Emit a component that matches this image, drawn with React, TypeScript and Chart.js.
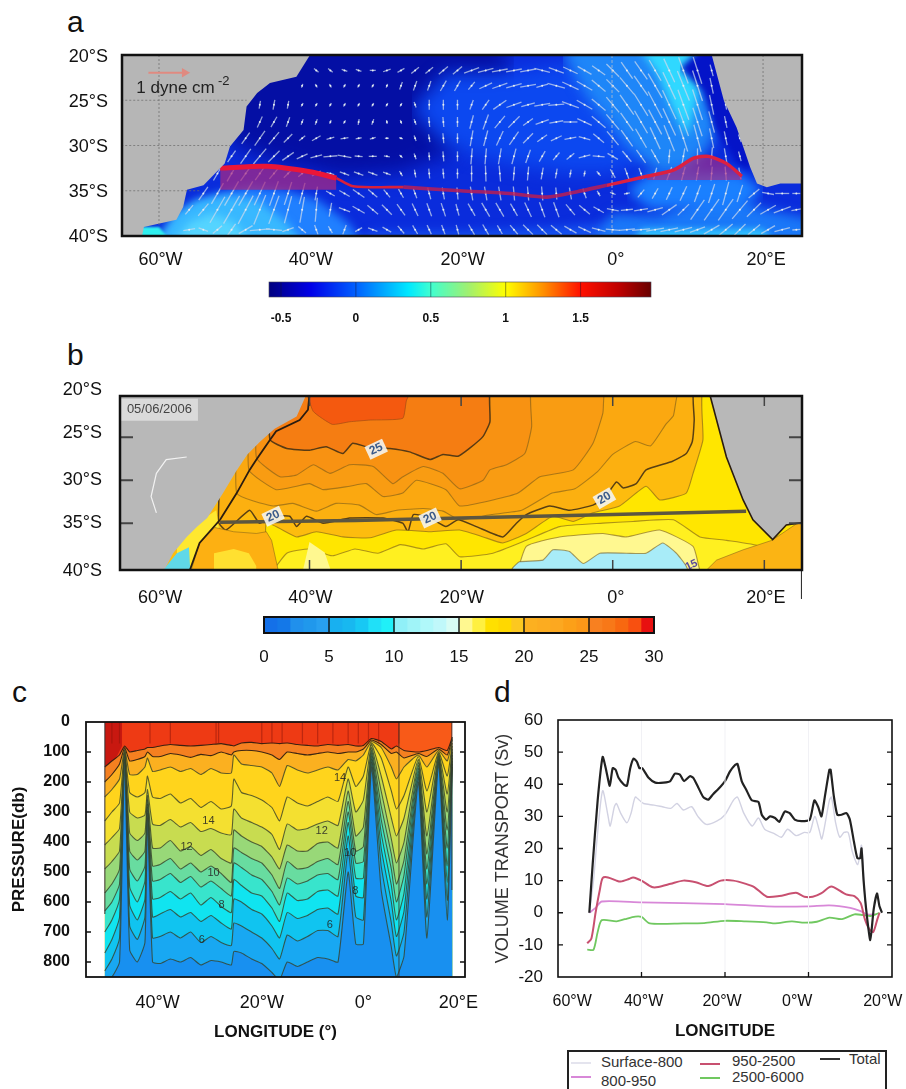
import React, { useEffect, useRef } from "react";
import { Chart, registerables } from "chart.js";

const n = null;

/* ---------- panel a ---------- */
const latPosA = [-20.25, -25.2, -30.15, -35.15, -40.15];
const latLabels = ["20°S", "25°S", "30°S", "35°S", "40°S"];
const lonLabels = ["60°W", "40°W", "20°W", "0°", "20°E"];
const lonLabelPosA = [-59.8, -39.9, -19.8, 0.5, 20.4];
const samericaLonA = [-66, -62.3, -62, -57.7, -56.8, -56.3, -54.1, -51.3, -50.6, -48.8, -48.4, -47, -45.3, -41.8, -40];
const samericaLatA = [-41, -40.2, -39, -38.2, -36.8, -34.9, -34.4, -32, -30.1, -28.3, -25.7, -24.2, -23.1, -22.4, -20];
const africaLonA = [13.2, 14.8, 16.5, 18.3, 19.2, 20.5, 22.3, 26];
const africaLatA = [-20, -25, -28, -32.4, -34.2, -34.6, -34.2, -34.2];
const sectionLonA = [-51.9, -45.7, -40, -36.5, -34.3, -27.6, -20.1, -13.5, -8.6, -4.6, -0.7, 4.6, 8.2, 10.8, 12.8, 15.2, 17.2];
const sectionLatA = [-32.5, -32.3, -32.9, -33.6, -34.5, -34.6, -35, -35.3, -35.7, -35.1, -34.4, -33.4, -32.7, -31.4, -31.2, -32, -33.4];
const quiverLons = [-56, -54.13, -52.26, -50.39, -48.52, -46.65, -44.78, -42.91, -41.04, -39.17, -37.3, -35.43, -33.56, -31.69, -29.82, -27.95, -26.08, -24.21, -22.34, -20.47, -18.6, -16.73, -14.86, -12.99, -11.12, -9.25, -7.38, -5.51, -3.64, -1.77, 0.1, 1.97, 3.84, 5.71, 7.58, 9.45, 11.32, 13.19, 15.06, 16.93, 18.8, 20.67, 22.54, 24.41];
const quiverLats = [-21.7, -23.4, -25.5, -27.4, -29.2, -31.2, -33.1, -35.3, -37.1, -39.3];
const quiverAngles = [
  [n, n, n, n, n, n, n, n, n, 40, 40, 20, 20, 0, -20, -30, -40, -40, -40, -40, -20, -15, -10, -10, -10, 15, 20, 25, 30, 35, 45, 55, 55, 60, 65, 70, 72, 75],
  [n, n, n, n, n, n, n, n, -70, 60, 60, -60, -60, -60, -70, -70, -70, -70, -60, -60, -50, -25, -20, -15, -10, -15, 15, 25, 30, 40, 45, 50, 55, 60, 65, 68, 72, 78],
  [n, n, n, n, n, -80, -80, -80, -60, -60, -60, -60, -60, -60, -60, -60, 70, 90, 90, 90, -70, -55, -35, -20, -15, -10, -5, 20, 30, 40, 50, 55, 58, 62, 65, 70, 72, 78, 80],
  [n, n, n, n, n, -65, -60, -70, -70, -70, -70, -60, -80, -70, 80, 70, 70, 85, 85, 90, -75, -70, -50, -45, -35, -20, -10, 0, 25, 40, 50, 55, 60, 62, 65, 70, 72, 75, 78],
  [n, n, n, n, -55, -55, -50, -45, -40, -30, -15, -10, -10, -15, 0, 20, 70, 80, 85, 90, -80, -75, -65, -55, -45, -35, -25, -10, 15, 40, 50, 55, 60, 65, 68, 72, 75, 78, 78, 70],
  [n, n, n, -55, -55, -50, -45, -35, -25, -15, -5, 10, 5, 0, 10, 40, 70, 85, 85, 90, -85, -85, -80, -75, -70, -60, -50, -40, -15, 5, 30, 50, 55, 60, -85, -80, 90, -85, 80, 75],
  [n, n, -60, -60, -55, -55, -50, -45, -40, -30, 15, 20, 20, 20, 20, 60, 80, 85, 85, 90, 90, 88, 85, -85, -85, -80, -80, -80, -80, 50, 60, 70, 70, -75, -70, -75, -80, -85, 85, 80],
  [n, -55, -60, -60, -60, -65, -70, -72, -75, -80, 30, 30, 35, 40, 50, 60, 70, 75, 80, 85, 80, 80, 80, 85, 85, 85, 85, 80, 70, 60, 20, -10, -50, -60, -65, -65, -70, -72, -75, -72, -40, 10, 0, 0],
  [-50, -50, -60, -60, -62, -68, -70, -75, -80, -85, -80, 20, 30, 40, 45, 55, 65, 70, 72, 75, 60, 60, 60, 60, 65, 70, 70, 50, 40, 30, 10, -5, -10, -15, -35, -45, -55, -55, -55, -50, -45, -30, -20, -10],
  [-10, 20, -40, -55, -30, -5, 5, -20, 40, 70, 60, -70, -30, 20, 30, 50, 60, 65, 70, 75, 60, 60, 60, 50, 45, 45, 40, 30, 25, 15, 5, -5, -5, -10, -12, -15, -20, -30, -40, -45, -40, -30, -15, -5],
];
const quiverLengths = [
  [n, n, n, n, n, n, n, n, n, 3, 3, 3, 3, 3, 4, 4, 5, 5, 6, 6, 8, 8, 8, 8, 8, 8, 8, 8, 8, 8, 9, 10, 11, 12, 13, 14, 14, 6],
  [n, n, n, n, n, n, n, n, 2, 2, 2, 2, 2, 2, 2, 4, 5, 5, 6, 6, 5, 7, 8, 8, 8, 6, 9, 9, 9, 9, 9, 11, 12, 14, 15, 16, 16, 8],
  [n, n, n, n, n, 4, 5, 4, 2, 2, 2, 2, 2, 2, 2, 2, 3, 5, 5, 5, 5, 6, 8, 8, 7, 8, 8, 9, 9, 9, 10, 12, 13, 15, 16, 16, 16, 10, 5],
  [n, n, n, n, n, 6, 6, 5, 3, 3, 2, 2, 3, 3, 2, 2, 3, 5, 5, 5, 7, 8, 8, 8, 6, 7, 7, 7, 8, 9, 10, 11, 13, 14, 15, 15, 15, 11, 6],
  [n, n, n, n, 7, 9, 8, 6, 4, 5, 4, 4, 3, 3, 2, 2, 3, 4, 5, 5, 8, 8, 8, 8, 7, 6, 6, 6, 6, 7, 9, 10, 11, 12, 14, 14, 14, 10, 7, 4],
  [n, n, n, 7, 9, 10, 8, 7, 6, 6, 7, 7, 4, 4, 3, 2, 3, 4, 5, 5, 8, 8, 8, 8, 7, 6, 5, 5, 6, 6, 6, 7, 8, 8, 7, 8, 8, 9, 8, 5],
  [n, n, 8, 9, 9, 8, 7, 6, 5, 5, 4, 5, 5, 5, 4, 3, 4, 5, 5, 5, 8, 8, 8, 7, 7, 6, 5, 4, 3, 3, 5, 6, 6, 6, 7, 7, 7, 7, 7, 6],
  [n, 8, 12, 14, 14, 13, 13, 12, 11, 7, 5, 6, 7, 6, 5, 5, 5, 6, 6, 6, 7, 7, 7, 7, 7, 7, 6, 6, 5, 3, 3, 3, 5, 6, 7, 8, 9, 10, 12, 9, 7, 6, 7, 4],
  [6, 8, 15, 16, 16, 16, 15, 14, 13, 12, 7, 6, 7, 7, 7, 7, 7, 7, 7, 6, 7, 8, 8, 7, 8, 8, 8, 7, 7, 6, 6, 6, 7, 8, 9, 8, 12, 13, 13, 12, 10, 9, 9, 5],
  [6, 5, 6, 7, 8, 10, 8, 6, 5, 5, 4, 5, 4, 5, 5, 5, 5, 5, 5, 5, 6, 6, 5, 6, 7, 7, 7, 7, 7, 7, 7, 8, 9, 9, 9, 9, 8, 9, 9, 8, 8, 8, 8, 4],
];
const stressTicks = [-0.5, 0, 0.5, 1, 1.5];
const stressLabels = ["-0.5", "0", "0.5", "1", "1.5"];
const stressStops: [number, string][] = [
  [-0.58, "#00007f"], [-0.3, "#0000e8"], [0, "#0060ff"], [0.35, "#00e8ff"], [0.5, "#40ffd0"], [0.75, "#a0f070"],
  [1, "#ffff00"], [1.25, "#ff9000"], [1.5, "#ff1000"], [1.75, "#c00000"], [1.97, "#680000"],
];

/* ---------- panel b ---------- */
const latPosB = [-19.5, -24.5, -30, -35, -40.6];
const lonLabelPosB = [-59.7, -39.9, -19.9, 0.4, 20.2];
const isoRedLon = [-66, -41, -39.5, -37, -34.7, -32, -27.7, -27.2, -26, 30];
const isoRedLat = [-19, -19, -22, -23.5, -23.2, -23, -22.8, -20.7, -19, -19];
const iso25Lon = [-66, -46, -45.2, -43, -40, -37.8, -35.6, -34.3, -32.5, -29.4, -26.8, -24.1, -22.4, -20.4, -18.9, -17.1, -16.2, -15.9, 30];
const iso25Lat = [-19, -19, -25.3, -26.3, -26.5, -26.1, -26.9, -25.7, -26.1, -26.3, -26.7, -27.6, -27, -27.2, -26.3, -24.9, -23.2, -19, -19];
const iso24Lon = [-66, -47.5, -47, -43.9, -41.7, -39.5, -37.3, -34.7, -31.6, -29, -27.7, -25, -22.4, -20.2, -17.1, -16.2, -14, -11.6, -10.7, -10.5, 30];
const iso24Lat = [-19, -19, -27.4, -29.6, -29.4, -28.2, -29.2, -28.2, -28.4, -30.4, -29.6, -28.4, -29.2, -31, -30, -28.8, -28.2, -26.9, -23.8, -19, -19];
const iso22Lon = [-66, -48.5, -48, -44.4, -41.7, -40, -38.2, -34.7, -32.5, -30.3, -27.7, -25.9, -22, -20.2, -15.8, -12.5, -9.6, -5.2, -2.6, -1.3, -0.8, 30];
const iso22Lat = [-19, -19, -28.8, -31.1, -30.7, -30.4, -31.1, -30.7, -30.4, -31.9, -31.5, -30, -31.1, -33, -32.3, -31.5, -29.6, -28.8, -25.7, -22.2, -19, -19];
const iso21Lon = [-66, -50, -49.6, -44.8, -42.2, -39.1, -36.5, -33.4, -31.2, -28.5, -25, -22.4, -20.2, -16, -12, -8, -5, -2, 0, 3, 5, 7, 8, 9, 30];
const iso21Lat = [-19, -19, -31.5, -33, -32.7, -33.6, -32.7, -32.9, -34, -33.5, -33.3, -33.6, -34.6, -34, -33.5, -31.5, -31, -29, -27, -25.5, -26, -23.5, -22.5, -19, -19];
const iso20Lon = [-66, -52.2, -52, -51, -47.9, -46.6, -44.8, -42.6, -41.7, -40.4, -38.2, -34.7, -30.3, -27.7, -27, -26.3, -24.1, -22, -20.4, -18, -14.5, -12.7, -11.4, -8.3, -5.7, -2.6, -1.1, 0.5, 1.4, 3.1, 4.4, 7.9, 9.7, 10.5, 10.75, 10.85, 30];
const iso20Lat = [-19, -19, -34.9, -35.8, -33.5, -35, -34.2, -34.2, -35.4, -34.2, -35, -34.4, -34.4, -35, -36, -34, -34.4, -35.4, -34.6, -35.4, -36.6, -35, -34, -33, -33.5, -32.9, -32.1, -30.2, -30.9, -30.4, -28.8, -27.8, -26.9, -25.5, -23, -19, -19];
const iso19Lon = [-66, -46, -45.7, -41.7, -39.1, -35.6, -32, -28.5, -24.1, -20.2, -17.1, -14.5, -11.4, -7.9, -5.2, -2.6, 0.9, 4.4, 6.2, 9.7, 10.6, 11.9, 12.1, 30];
const iso19Lat = [-42, -42, -35, -36.6, -36, -36.6, -36.7, -35.8, -36, -35.8, -36.6, -37.3, -36.2, -34.2, -34.8, -33.8, -33, -30.7, -32.3, -31.5, -29.2, -25.3, -19, -19];
const iso18Lon = [-46, -43, -40, -37, -34, -31, -28, -25, -22, -20.2, -15.8, -11.4, -7, -1.3, 2.7, 8, 11.5, 15, 19.4, 26];
const iso18Lat = [-42, -38.5, -38, -38.8, -38, -38.5, -37.5, -38, -37.4, -38.9, -38.5, -37, -35.4, -35, -34.8, -34.6, -36.6, -37, -37.7, -42];
const iso17Lon = [-13, -11.4, -7, -1.3, 1.8, 6.2, 10.6, 11.5, 12.5];
const iso17Lat = [-42, -37.7, -36.6, -36.2, -36.6, -35.8, -37.7, -40.5, -42];
const iso15Lon = [-14, -13.2, -12.3, -9.2, -7.9, -5.7, -3.9, -1.7, 1.8, 4.4, 6.6, 8.4, 9.7, 10.5];
const iso15Lat = [-42, -40.2, -39.5, -39.3, -38.1, -38.3, -39.7, -38.5, -38.5, -38.5, -37.3, -38.5, -40, -42];
const bIsoLons = [isoRedLon, iso25Lon, iso24Lon, iso22Lon, iso21Lon, iso20Lon, iso19Lon, iso18Lon, iso17Lon, iso15Lon];
const bIsoLats = [isoRedLat, iso25Lat, iso24Lat, iso22Lat, iso21Lat, iso20Lat, iso19Lat, iso18Lat, iso17Lat, iso15Lat];
const bColors = ["#f57d12", "#f89212", "#f99c12", "#fba810", "#fcb010", "#fdbc0e", "#ffe600", "#fff020", "#fff890", "#a8ecf8"];
const samericaLonB = [-66, -60.5, -59, -58, -56.2, -54.8, -53.5, -51.4, -49.7, -48.2, -46.5, -44.6, -41.7, -40.4];
const samericaLatB = [-41, -41, -40.2, -38.5, -36.6, -35.4, -34.4, -31.5, -29, -27, -25.5, -24, -22.6, -20];
const coastLonB = [-55.8, -54.5, -51.8, -49.6, -47.9, -47, -45.2, -44.4, -41.3, -40.2, -40];
const coastLatB = [-40.5, -37.3, -34.6, -31.5, -28.8, -27.6, -25.3, -24.3, -23, -21.8, -20];
const africaLonB = [12.8, 15, 17.2, 18.5, 21.1, 22.9, 26];
const africaLatB = [-20, -27.3, -32.3, -34.6, -36.9, -35.2, -34.8];
const agulhasLon = [10.6, 13.7, 17.2, 21, 24.7, 26];
const agulhasLat = [-42, -39.3, -38.1, -37, -34.8, -34.5];
const brazilLon = [-55.8, -54.5, -52.5, -50, -47, -45.7, -45, -44];
const brazilLat = [-41, -37.3, -35.5, -36, -36.2, -36, -37, -41];
const stripLon = [-57.5, -55.5, -53.5, -52.3, -51.9];
const stripLat = [-37, -35.6, -34.2, -33.5, -36];
const plataLon = [-60, -58.9, -57.5, -55.9, -55.7];
const plataLat = [-41, -40, -38.5, -37.8, -41];
const riverLon = [-56.2, -58.9, -60.2, -60.9, -60.2];
const riverLat = [-27.3, -27.6, -29.2, -31.9, -33.8];
const sectionLonB = [-51.8, -34, -20, 0, 17.6];
const sectionLatB = [-34.9, -34.7, -34.4, -34, -33.6];
const sstTicks = [0, 5, 10, 15, 20, 25, 30];
const sstColors = [
  "#1470e8", "#1478e8", "#2090ec", "#2098ec", "#28a0f0", "#18b0f0", "#18b8f0", "#18c8f4", "#20e0f8", "#20f0f8",
  "#90f0f8", "#a0f4f8", "#b0f8fa", "#c0f8fa", "#d8fcf4", "#fff890", "#fff040", "#ffe000", "#ffd800", "#fcc820",
  "#fcb020", "#fcac20", "#fca820", "#fca018", "#fc9818", "#f88020", "#f87818", "#f86810", "#f85010", "#e81010",
];

/* ---------- panel c ---------- */
const pressureTicks = [0, 100, 200, 300, 400, 500, 600, 700, 800];
const cLonTickPos = [-40.5, -20, 0, 18.7];
const cLonLabels = ["40°W", "20°W", "0°", "20°E"];
const cLons = [-50.9, -49.5, -48, -47, -46, -44.5, -43, -42.5, -41.5, -40, -38, -36, -34, -32, -30, -28, -26, -25.5, -24, -22, -20, -18, -16.5, -15, -13, -11, -9, -7, -5, -3, -1.5, 0, 1.6, 3.5, 5.5, 6.5, 8, 10.8, 12.5, 14.8, 16.5, 17.5];
const depthA = [150, 130, 110, 80, 100, 95, 90, 85, 85, 80, 75, 78, 80, 78, 75, 72, 78, 80, 70, 68, 72, 70, 72, 70, 75, 78, 80, 75, 78, 75, 80, 78, 55, 65, 90, 80, 95, 100, 95, 85, 95, 50];
const depthB = [200, 175, 140, 85, 130, 125, 115, 100, 115, 115, 105, 110, 118, 108, 112, 100, 110, 100, 95, 95, 100, 110, 125, 100, 105, 110, 105, 100, 105, 100, 100, 90, 60, 75, 105, 100, 120, 105, 115, 90, 110, 55];
const depthC = [250, 225, 190, 90, 175, 175, 150, 120, 165, 160, 150, 165, 155, 175, 155, 170, 170, 110, 140, 145, 150, 170, 215, 145, 160, 170, 160, 150, 160, 125, 130, 110, 65, 85, 150, 190, 150, 110, 150, 95, 130, 60];
const depthD = [330, 300, 270, 95, 235, 250, 235, 180, 250, 255, 240, 270, 255, 285, 265, 290, 280, 190, 235, 245, 260, 285, 330, 250, 270, 280, 265, 250, 265, 150, 215, 180, 70, 120, 230, 290, 245, 115, 230, 100, 180, 70];
const depthE = [410, 385, 355, 100, 300, 320, 310, 225, 340, 345, 325, 350, 335, 365, 355, 370, 375, 290, 320, 335, 350, 375, 425, 340, 360, 355, 340, 330, 345, 190, 300, 260, 75, 180, 320, 380, 320, 125, 300, 105, 240, 80];
const depthF = [490, 465, 430, 105, 370, 395, 370, 245, 420, 420, 395, 430, 415, 445, 425, 455, 470, 360, 380, 400, 415, 450, 490, 410, 430, 430, 405, 400, 420, 230, 380, 350, 85, 230, 390, 470, 400, 135, 380, 110, 300, 90];
const depthG = [570, 540, 490, 110, 430, 460, 430, 260, 480, 475, 455, 490, 470, 500, 480, 505, 535, 420, 435, 455, 470, 510, 555, 465, 490, 485, 465, 455, 475, 265, 430, 415, 95, 280, 440, 540, 460, 145, 440, 115, 360, 100];
const depthH = [630, 600, 540, 115, 490, 530, 480, 275, 530, 525, 505, 535, 515, 550, 530, 555, 580, 470, 485, 510, 525, 565, 610, 520, 540, 530, 510, 505, 525, 300, 470, 465, 105, 325, 490, 600, 510, 155, 490, 120, 420, 110];
const depthI = [700, 660, 590, 120, 550, 600, 530, 285, 590, 585, 565, 590, 570, 610, 585, 615, 635, 525, 545, 570, 580, 620, 665, 570, 595, 590, 565, 560, 580, 335, 520, 520, 115, 370, 545, 660, 570, 165, 540, 125, 480, 120];
const depthJ = [770, 725, 650, 125, 610, 660, 590, 295, 650, 640, 625, 650, 635, 665, 645, 670, 690, 590, 600, 625, 640, 680, 720, 635, 655, 645, 625, 620, 640, 380, 580, 585, 125, 420, 600, 715, 630, 175, 590, 130, 535, 130];
const depthK = [830, 790, 720, 130, 680, 725, 650, 305, 720, 715, 700, 720, 700, 735, 715, 735, 745, 670, 680, 700, 720, 755, 790, 710, 730, 715, 695, 695, 715, 430, 650, 660, 135, 480, 670, 780, 700, 185, 650, 135, 595, 140];
const depthL = [860, 850, 800, 135, 760, 800, 735, 320, 800, 805, 790, 800, 785, 810, 795, 800, 810, 765, 770, 790, 805, 835, 860, 800, 815, 800, 785, 790, 800, 500, 740, 740, 150, 560, 750, 850, 780, 200, 720, 140, 660, 150];
const cDepths = [depthA, depthB, depthC, depthD, depthE, depthF, depthG, depthH, depthI, depthJ, depthK, depthL];
const cColors = ["#f58020", "#fbb020", "#ffd41c", "#f4e030", "#c8dc50", "#98d878", "#68dca0", "#38e4cc", "#10e4f0", "#10c4f0", "#18a8f2", "#1890f0"];
const cStreakLons = [-49.5, -48, -42, -38, -29, -28.5, -20, -18, -16, -12, -9, -6, -3, -1, 1, 3, 7];

/* ---------- panel d ---------- */
const transportTicks = [-20, -10, 0, 10, 20, 30, 40, 50, 60];
const dLabelPos = [-56.6, -39.5, -20.7, -2.7, 17.8];
const dLabels = ["60°W", "40°W", "20°W", "0°W", "20°W"];
const dMarks = [-40, -20, 0];
const totalLon = [-52.5, -51.7, -50.5, -49.3, -48.4, -47.6, -46.9, -46.2, -45.5, -44.3, -43.5, -42.7, -41.9, -41.1, -40.5, -39.8, -38.3, -36.7, -34.7, -33.1, -32, -30.8, -29.8, -28.4, -27.6, -26.4, -25.2, -24, -22.8, -21.6, -20, -18.8, -17.6, -17, -16, -14.8, -13.6, -12, -11.2, -10.2, -9.2, -8, -7, -5.7, -4.5, -3.3, -1.7, 0.3, 1.4, 2.3, 3.1, 3.9, 5, 5.3, 6.1, 6.9, 7.9, 9.1, 9.9, 10.9, 11.7, 12.4, 12.7, 13.2, 13.9, 14.8, 15.6, 16.4, 17, 17.6];
const totalVal = [0, 15, 35, 48.5, 44, 39.5, 45, 44.5, 42, 40, 39.5, 45, 48, 47, 45, 45, 42, 40.5, 40.5, 41, 43.3, 43, 41, 42.5, 42, 39, 36, 35.2, 37, 38.5, 41, 44, 46, 46.3, 41, 38, 35, 34.5, 30.5, 29, 30, 29.5, 28.3, 31.5, 31, 29, 28.5, 29, 35, 33, 30, 36, 44.5, 44.5, 36, 30.5, 30.5, 31, 29, 22, 17, 17, 20, 10, 0, -8.5, 1, 6, 2, 0];
const surfaceLon = [-52.5, -51.5, -50.5, -49.3, -48, -47.5, -46.5, -46, -45, -43.5, -42.5, -41.5, -40.5, -39.5, -37, -35, -33, -31.5, -30, -28, -26.5, -24.5, -22, -20, -18, -17, -15.5, -13.5, -12, -10.5, -8, -6.5, -5, -3, -1, 0.3, 1.5, 2.5, 3.2, 5, 5.5, 6.5, 7.5, 8.5, 9.5, 10.5, 11.8, 12.7, 13.5, 14];
const surfaceVal = [0, 10, 25, 38, 30, 27, 33, 34, 31, 28, 31, 36, 35, 34, 33.5, 33, 32.5, 34, 32, 33, 30, 27.5, 28.5, 30.5, 35, 36, 31, 27, 29.5, 26, 24.5, 23.5, 26, 24, 25, 25, 30, 26, 23, 35, 36, 28, 23.5, 25, 25, 19, 15, 21, 5, 0];
const midLon = [-52.5, -51, -49.5, -40, -20, -10, 0, 5, 10, 12.5, 14, 16];
const midVal = [0, 1.5, 3.5, 3.2, 2.7, 2, 2, 2.3, 1.5, 0.5, -0.5, -0.5];
const deepLon = [-53, -52, -51, -50, -49.3, -48, -46, -45, -43, -42, -40, -37.5, -36, -33, -30, -27, -24, -21, -18, -15, -13, -10, -7, -3, -1, 1, 3, 5, 6, 9, 11, 12.5, 13.5, 14.5, 15.5, 16.5, 17];
const deepVal = [-9.5, -8, 0, 7, 10.8, 11, 10, 9.7, 10.5, 11, 10, 8, 8, 9, 10, 9.5, 8.3, 10, 10, 9, 8, 5, 5.2, 6.2, 5, 5, 6, 8, 8, 5.7, 5.2, 3, -2, -5, -6, -2, 0];
const abyssLon = [-53, -51.5, -50.5, -49.5, -46, -44, -41.5, -40, -38, -30, -25, -20, -15, -10, -8, -4, -1, 2, 5, 8, 11, 13, 15, 17];
const abyssVal = [-11.5, -11.5, -6, -2.3, -2.7, -2, -1.2, -1.3, -3.3, -3.3, -3.2, -2.5, -2.7, -3, -3.3, -2.7, -3.1, -2.8, -1.5, -2, -0.5, -0.7, -1, 0];

const legendItems = [
  { label: "Surface-800", color: "#e4e4ee", lineX: 571, lineY: 1063, textX: 601, textY: 1062 },
  { label: "800-950", color: "#d888d8", lineX: 571, lineY: 1077, textX: 601, textY: 1081 },
  { label: "950-2500", color: "#c85070", lineX: 700, lineY: 1064, textX: 732, textY: 1061 },
  { label: "2500-6000", color: "#70c860", lineX: 700, lineY: 1078, textX: 732, textY: 1077 },
  { label: "Total", color: "#333333", lineX: 820, lineY: 1059, textX: 849, textY: 1059 },
];

/* ---------- plugins ---------- */
const softField = {
  id: "softField",
  beforeDatasetDraw(chart: any, args: any) {
    const s = chart.data.datasets[args.index]?.soft;
    chart.ctx.filter = s ? `blur(${s}px)` : "none";
  },
  afterDatasetDraw(chart: any) {
    chart.ctx.filter = "none";
  },
};
Chart.register(softField, ...registerables);

const overlay = (cfg: any) => ({
  id: "overlay",
  afterDatasetsDraw(chart: any) {
    const { ctx, chartArea: a, scales } = chart;
    ctx.save();
    (cfg.marks || []).forEach((m: any) => {
      ctx.strokeStyle = m.color || "#111";
      ctx.lineWidth = m.width || 1;
      m.values.forEach((v: number) => {
        ctx.beginPath();
        if (m.axis === "x") {
          const p = scales.x.getPixelForValue(v);
          const len = m.len || a.bottom - a.top;
          (m.sides || ["bottom"]).forEach((s: string) => {
            ctx.moveTo(p, s === "bottom" ? a.bottom : a.top);
            ctx.lineTo(p, s === "bottom" ? a.bottom - len : a.top + len);
          });
        } else {
          const p = scales.y.getPixelForValue(v);
          const len = m.len || a.right - a.left;
          (m.sides || ["left"]).forEach((s: string) => {
            ctx.moveTo(s === "left" ? a.left : a.right, p);
            ctx.lineTo(s === "left" ? a.left + len : a.right - len, p);
          });
        }
        ctx.stroke();
      });
    });
    (cfg.notes || []).forEach((t: any) => {
      ctx.save();
      ctx.translate(scales.x.getPixelForValue(t.x), scales.y.getPixelForValue(t.y));
      ctx.rotate(((t.angle || 0) * Math.PI) / 180);
      ctx.font = t.font;
      ctx.textAlign = t.align || "center";
      ctx.textBaseline = "middle";
      if (t.bg) {
        const w = ctx.measureText(t.text).width;
        ctx.fillStyle = t.bg;
        ctx.fillRect(-w / 2 - (t.bgw || 3), -(t.bgh || 8), w + 2 * (t.bgw || 3), 2 * (t.bgh || 8));
      }
      ctx.fillStyle = t.color;
      ctx.fillText(t.text, 0, 0);
      ctx.restore();
    });
    ctx.strokeStyle = cfg.borderColor || "#111";
    ctx.lineWidth = cfg.border || 2;
    ctx.strokeRect(a.left, a.top, a.right - a.left, a.bottom - a.top);
    ctx.restore();
  },
});

/* ---------- helpers ---------- */
const FONT = "'Liberation Sans', Arial, sans-serif";
const zip = (xs: number[], ys: (number | null)[]) => xs.map((x, i) => ({ x, y: ys[i] }));
const constant = (xs: number[], v: number) => xs.map((x) => ({ x, y: v }));

function layers() {
  const ds: any[] = [];
  const add = (d: any) => {
    d.order = -ds.length;
    d.pointRadius = d.pointRadius ?? 0;
    d.borderColor = d.borderColor ?? "transparent";
    d.borderWidth = d.borderWidth ?? 0;
    d.fill = d.fill ?? false;
    ds.push(d);
  };
  const band = (xs: number[], top: number[] | number, bot: number[] | number, color: string, soft = 0) => {
    const t = Array.isArray(top) ? zip(xs, top) : constant(xs, top);
    const b = Array.isArray(bot) ? zip(xs, bot) : constant(xs, bot);
    if (soft) {
      // taper both ends so that the blurred edge is not cut by the fill's clip
      const pad = Math.max(3, soft * 0.5);
      const m0 = ((t[0].y as number) + (b[0].y as number)) / 2;
      const l = t.length - 1;
      const m1 = ((t[l].y as number) + (b[l].y as number)) / 2;
      t.unshift({ x: xs[0] - pad, y: m0 });
      b.unshift({ x: xs[0] - pad, y: m0 });
      t.push({ x: xs[l] + pad, y: m1 });
      b.push({ x: xs[l] + pad, y: m1 });
    }
    add({ data: t, fill: "+1", backgroundColor: color, soft });
    add({ data: b });
  };
  return { ds, add, band };
}

function xAxis(min: number, max: number, pos: number[], labels: string[], pad: number, h: number, font: any, title?: any) {
  return {
    type: "linear",
    min,
    max,
    afterBuildTicks: (s: any) => {
      s.ticks = pos.map((v) => ({ value: v }));
    },
    afterFit: (s: any) => {
      s.height = h;
      s.paddingLeft = 0;
      s.paddingRight = 0;
    },
    grid: { display: false, drawTicks: false },
    border: { display: false },
    title: title || { display: false },
    ticks: { autoSkip: false, maxRotation: 0, padding: pad, color: "#111", font, callback: (_: any, i: number) => labels[i] },
  };
}
function yAxis(min: number, max: number, pos: number[], labels: string[], pad: number, w: number, font: any, reverse = false, title?: any) {
  return {
    type: "linear",
    min,
    max,
    reverse,
    afterBuildTicks: (s: any) => {
      s.ticks = pos.map((v) => ({ value: v }));
    },
    afterFit: (s: any) => {
      s.width = w;
      s.paddingTop = 0;
      s.paddingBottom = 0;
    },
    grid: { display: false, drawTicks: false },
    border: { display: false },
    title: title || { display: false },
    ticks: { autoSkip: false, padding: pad, color: "#111", font, callback: (_: any, i: number) => labels[i] },
  };
}
const base = (t: number, r: number) => ({
  responsive: false,
  maintainAspectRatio: false,
  animation: false,
  events: [],
  layout: { padding: { top: t, right: r, left: 0, bottom: 0 } },
  plugins: { legend: { display: false }, tooltip: { enabled: false }, title: { display: false } },
  elements: { point: { radius: 0 }, line: { tension: 0 } },
});

/* ---------- panel builders ---------- */
const mapFont = { family: FONT, size: 18 };

function makeA() {
  const { ds, add, band } = layers();
  band([-70, 30], -15, -45, "#0a2cdc");
  band([-50, -44, -36, -28, -22, -18], -15, [-30, -32, -33.5, -33, -31, -28], "#040fa4", 10);
  band([-22, -14, -6, 0, 4], [-22, -22, -21, -21, -23], [-30, -32, -33, -33, -32], "#0c48f0", 9);
  band([-3, 2, 6, 10, 13], -15, [-25, -30, -33, -33, -30], "#1e86f8", 7);
  band([6, 8, 10, 11.5], -15, [-22, -26, -29, -24], "#30d8ff", 4);
  band([12, 13.5, 15, 16.5, 18], -19, [-24, -28, -30, -32, -33], "#0414c8", 3);
  band([-57, -53, -48, -43, -39, -35], [-37.5, -35.5, -34.5, -35, -36, -38.5], -45, "#2080ff", 5);
  band([-58, -55, -51, -47, -43], [-37.5, -36, -35.5, -36, -38.5], -45, "#38b8ff", 4);
  band([-56, -53, -50], [-38.5, -37.5, -38.5], -45, "#55d4ff", 4);
  band([-32, -20, -8, 0], [-39.5, -39.5, -39, -38.5], -45, "#1450ee", 5);
  band([0, 6, 12, 16, 20, 26], [-37.5, -37.8, -36, -35.5, -37, -38], -45, "#1a78f8", 6);
  band([5, 10, 14, 17], -33, -37, "#1a80ff", 6);
  band([4, 10, 16, 20], -39.2, -45, "#30c0ff", 3);
  band([-62.5, -60], -39, -45, "#30f0f0", 1);
  // wind stress arrows
  const pts: any[] = [];
  const rot: number[] = [];
  const rad: number[] = [];
  quiverLats.forEach((lat, r) => {
    quiverLons.forEach((lon, c) => {
      const a = quiverAngles[r][c];
      if (a !== null && a !== undefined) {
        pts.push({ x: lon, y: lat });
        rot.push(a);
        rad.push(quiverLengths[r][c] as number);
      }
    });
  });
  add({
    data: pts,
    showLine: false,
    pointStyle: "line",
    pointRotation: rot,
    pointRadius: rad,
    pointBorderColor: "rgba(205,218,235,0.72)",
    pointBorderWidth: 1.3,
  });
  add({ data: pts.map((p) => ({ ...p })), showLine: false, pointStyle: "circle", pointRadius: 1, pointBackgroundColor: "#e6edf2", pointBorderWidth: 0 });
  // section hatch and line
  band([-51.9, -45.7, -40, -36.5], [-32.5, -32.3, -32.9, -33.6], -34.9, "rgba(170,40,130,0.72)");
  band([4.6, 8.2, 10.8, 12.8, 15.2, 17.2], [-33.4, -32.7, -31.4, -31.2, -32, -33.4], -33.8, "rgba(170,40,130,0.65)");
  const part = (from: number, to: number, color: string, w: number) =>
    add({ data: zip(sectionLonA.slice(from, to + 1), sectionLatA.slice(from, to + 1)), borderColor: color, borderWidth: w, tension: 0.25 });
  part(0, 3, "#ea1638", 5);
  part(3, 5, "#d8203c", 2.6);
  part(5, 10, "rgba(185,30,85,0.85)", 3.6);
  part(10, 16, "#dc2040", 3.4);
  // land
  add({ data: zip(samericaLonA, samericaLatA), fill: "end", backgroundColor: "#b6b6b6" });
  add({ data: zip(africaLonA, africaLatA), fill: "end", backgroundColor: "#b6b6b6" });
  // dotted meridians and parallels
  const dash = { borderColor: "rgba(110,110,110,0.75)", borderWidth: 1, borderDash: [2, 2] };
  add({ data: zip([-65, -48.4], [-25, -25]), ...dash });
  add({ data: zip([-65, -50.6], [-30, -30]), ...dash });
  add({ data: zip([-65, -54.5], [-35, -35]), ...dash });
  add({ data: zip([14.9, 25.2], [-25, -25]), ...dash });
  add({ data: zip([17.4, 25.2], [-30, -30]), ...dash });
  add({ data: zip([-60, -60], [-20, -38.8]), ...dash });
  add({ data: zip([20, 20], [-20, -34.5]), ...dash });
  add({ data: zip([0, 0], [-20, -40]), borderColor: "rgba(185,190,200,0.8)", borderWidth: 1, borderDash: [3, 2] });
  // key arrow
  add({
    data: zip([-61.4, -56.6], [-21.95, -21.95]),
    borderColor: "#e08a80",
    borderWidth: 2,
    pointStyle: "triangle",
    pointRadius: [0, 3.5],
    pointRotation: [0, 90],
    pointBackgroundColor: "#e08a80",
    pointBorderColor: "#e08a80",
  });
  return {
    type: "line",
    data: { datasets: ds },
    options: {
      ...base(20, 64),
      scales: {
        x: xAxis(-64.9, 25.16, lonLabelPosA, lonLabels, 13, 40, mapFont),
        y: yAxis(-40, -20, latPosA, latLabels, 14, 122, mapFont),
      },
    },
    plugins: [
      overlay({
        border: 2.5,
        notes: [
          { x: -63, y: -23.7, text: "1 dyne cm", font: `17px ${FONT}`, color: "#222", align: "left" },
          { x: -52.2, y: -22.95, text: "-2", font: `13px ${FONT}`, color: "#222", align: "left" },
        ],
      }),
    ],
  };
}

function makeColorbarA() {
  return {
    type: "bar",
    data: {
      labels: [""],
      datasets: [
        {
          data: [[-0.58, 1.97]],
          barPercentage: 1,
          categoryPercentage: 1,
          backgroundColor: (c: any) => {
            const x = c.chart.scales.x;
            if (!x || !Number.isFinite(x.left) || !Number.isFinite(x.right)) return "#0060ff";
            const g = c.chart.ctx.createLinearGradient(x.left, 0, x.right, 0);
            stressStops.forEach(([v, col]) => g.addColorStop((v + 0.58) / 2.55, col));
            return g;
          },
        },
      ],
    },
    options: {
      ...base(10, 30),
      indexAxis: "y",
      scales: {
        x: xAxis(-0.58, 1.97, stressTicks, stressLabels, 14, 32, { family: FONT, size: 12, weight: "bold" }),
        y: { display: false },
      },
      layout: { padding: { top: 10, right: 30, left: 30, bottom: 0 } },
    },
    plugins: [overlay({ border: 0.6, borderColor: "#445", marks: [{ axis: "x", values: stressTicks, color: "rgba(20,20,40,0.45)", width: 1 }] })],
  };
}

function makeB() {
  const { ds, add, band } = layers();
  band([-70, 30], -15, -45, "#f4590f");
  const lines = (i: number) =>
    i === 1 || i === 5
      ? { borderColor: "rgba(70,50,20,0.9)", borderWidth: 1.5 }
      : i === 0
      ? { borderColor: "rgba(150,70,20,0.6)", borderWidth: 1 }
      : { borderColor: "rgba(120,90,25,0.6)", borderWidth: 1.1 };
  bIsoLons.forEach((lons, i) => {
    add({ data: zip(lons, bIsoLats[i]), fill: { value: -45 }, backgroundColor: bColors[i], tension: 0.15, ...lines(i) });
  });
  add({ data: zip(stripLon, stripLat), fill: { value: -45 }, backgroundColor: "#ffe830" });
  add({ data: zip(plataLon, plataLat), fill: { value: -45 }, backgroundColor: "#60d8e8" });
  add({ data: zip(brazilLon, brazilLat), fill: { value: -45 }, backgroundColor: "#fdb012", borderColor: "rgba(120,90,25,0.5)", borderWidth: 1 });
  band([-52.6, -50, -48, -47], [-38.5, -38, -38.5, -40], -42, "#ffe030");
  band([-41, -40, -38, -37], [-41, -37.2, -38.4, -41], -42, "#fff890");
  add({ data: zip(agulhasLon, agulhasLat), fill: { value: -45 }, backgroundColor: "#fbb414", borderColor: "rgba(120,90,25,0.5)", borderWidth: 1 });
  add({ data: zip(samericaLonB, samericaLatB), fill: "end", backgroundColor: "#b8b8b8" });
  add({ data: zip(africaLonB, africaLatB), fill: "end", backgroundColor: "#b8b8b8", borderColor: "#2a1c10", borderWidth: 1.6 });
  add({ data: zip(coastLonB, coastLatB), borderColor: "#2a1c10", borderWidth: 1.8 });
  add({ data: zip(riverLon, riverLat), borderColor: "#f2f2f2", borderWidth: 1.2 });
  add({ data: zip(sectionLonB, sectionLatB), borderColor: "#5c5640", borderWidth: 3.5 });
  add({ data: zip([24.9, 24.9], [-40.45, -43.8]), borderColor: "#333", borderWidth: 1, clip: false });
  const lab = { font: `bold 12px ${FONT}`, color: "#3a5a8a", bg: "rgba(244,244,240,0.9)", bgh: 7 };
  return {
    type: "line",
    data: { datasets: ds },
    options: {
      ...base(20, 64),
      scales: {
        x: xAxis(-65, 24.97, lonLabelPosB, lonLabels, 17, 40, mapFont),
        y: yAxis(-40.45, -20.2, latPosB, latLabels, 18, 120, mapFont),
      },
    },
    plugins: [
      overlay({
        border: 2.5,
        marks: [
          { axis: "x", values: [-40, -20, 0, 20], len: 10, width: 1.5, color: "#444", sides: ["top", "bottom"] },
          { axis: "y", values: [-25, -30, -35], len: 13, width: 2, color: "#444", sides: ["left", "right"] },
        ],
        notes: [
          { x: -59.8, y: -21.8, text: "05/06/2006", font: `13px ${FONT}`, color: "#444", bg: "rgba(222,222,222,0.9)", bgh: 11, bgw: 6 },
          { x: -31.2, y: -26.4, text: "25", angle: -25, ...lab },
          { x: -44.8, y: -34.2, text: "20", angle: -25, ...lab },
          { x: -24.1, y: -34.4, text: "20", angle: -25, ...lab },
          { x: -1.1, y: -32.1, text: "20", angle: -30, ...lab },
          { x: 10.4, y: -39.9, text: "15", font: `bold 11px ${FONT}`, color: "#5a4a9a", angle: -25 },
        ],
      }),
    ],
  };
}

function makeColorbarB() {
  const datasets = sstColors.map((c) => ({ data: [1], backgroundColor: c, barPercentage: 1, categoryPercentage: 1, borderWidth: 0 }));
  const sstLabels = sstTicks.map(String);
  return {
    type: "bar",
    data: { labels: [""], datasets },
    options: {
      ...base(10, 30),
      indexAxis: "y",
      layout: { padding: { top: 10, right: 30, left: 30, bottom: 0 } },
      scales: {
        x: { ...xAxis(0, 30, sstTicks, sstLabels, 14, 36, { family: FONT, size: 17 }), stacked: true },
        y: { display: false, stacked: true },
      },
    },
    plugins: [overlay({ border: 2, marks: [{ axis: "x", values: sstTicks, color: "#111", width: 1.4 }] })],
  };
}

function makeC() {
  const { ds, add, band } = layers();
  add({ data: constant(cLons, -5), fill: { value: 900 }, backgroundColor: "#ee3a14" });
  band([-50.9, -49, -47.5], -5, [170, 130, 80], "#c81810");
  band([7, 17.4], -5, [110, 110], "#f85a18");
  cDepths.forEach((d, i) => {
    add({
      data: zip(cLons, d),
      fill: { value: 900 },
      backgroundColor: cColors[i],
      borderColor: i < 2 ? "rgba(40,25,15,0.9)" : "rgba(55,65,40,0.8)",
      borderWidth: 1.1,
      tension: 0.15,
    });
  });
  const streak: any[] = [];
  cStreakLons.forEach((x) => {
    streak.push({ x, y: 0 }, { x, y: 72 }, { x, y: null });
  });
  add({ data: streak, borderColor: "rgba(140,20,10,0.5)", borderWidth: 1.2, spanGaps: false });
  add({ data: zip([-50.9, -50.9], [0, 640]), borderColor: "rgba(50,50,50,0.7)", borderWidth: 1.4 });
  add({ data: zip([17.4, 17.4], [0, 560]), borderColor: "rgba(50,50,50,0.6)", borderWidth: 1.4 });
  add({ data: zip([7, 7], [0, 850]), borderColor: "rgba(60,50,40,0.7)", borderWidth: 1.2 });
  const f = { font: `11px ${FONT}`, color: "rgba(35,35,35,0.85)" };
  return {
    type: "line",
    data: { datasets: ds },
    options: {
      ...base(20, 40),
      scales: {
        x: xAxis(-54.6, 20, cLonTickPos, cLonLabels, 15, 70, { family: FONT, size: 18 }, {
          display: true,
          text: "LONGITUDE (°)",
          color: "#111",
          font: { family: FONT, size: 17, weight: "bold" },
          padding: { top: 4, bottom: 4 },
        }),
        y: yAxis(0, 850, pressureTicks, pressureTicks.map(String), 16, 86, { family: FONT, size: 16, weight: "bold" }, true, {
          display: true,
          text: "PRESSURE(db)",
          color: "#111",
          font: { family: FONT, size: 17, weight: "bold" },
          padding: { top: 9, bottom: 0 },
        }),
      },
    },
    plugins: [
      overlay({
        border: 1.8,
        marks: [{ axis: "y", values: pressureTicks.slice(1), len: 5, width: 1.3, sides: ["left", "right"] }],
        notes: [
          { x: -30.5, y: 329, text: "14", ...f },
          { x: -34.8, y: 418, text: "12", ...f },
          { x: -29.5, y: 504, text: "10", ...f },
          { x: -27.9, y: 611, text: "8", ...f },
          { x: -31.8, y: 725, text: "6", ...f },
          { x: -8.2, y: 362, text: "12", ...f },
          { x: -4.6, y: 187, text: "14", ...f },
          { x: -2.6, y: 435, text: "10", ...f },
          { x: -1.6, y: 563, text: "8", ...f },
          { x: -6.6, y: 675, text: "6", ...f },
        ],
      }),
    ],
  };
}

function makeD() {
  const { ds, add } = layers();
  add({ data: zip(surfaceLon, surfaceVal), borderColor: "#d2d2e2", borderWidth: 1.4, tension: 0.25 });
  add({ data: zip(midLon, midVal), borderColor: "#d888d8", borderWidth: 1.8, tension: 0.25 });
  add({ data: zip(abyssLon, abyssVal), borderColor: "#70c860", borderWidth: 1.8, tension: 0.25 });
  add({ data: zip(deepLon, deepVal), borderColor: "#c85070", borderWidth: 2, tension: 0.25 });
  add({ data: zip(totalLon, totalVal), borderColor: "#222222", borderWidth: 2.2, tension: 0.2 });
  return {
    type: "line",
    data: { datasets: ds },
    options: {
      ...base(20, 13),
      scales: {
        x: xAxis(-60, 20, dLabelPos, dLabels, 15, 70, { family: FONT, size: 16 }, {
          display: true,
          text: "LONGITUDE",
          color: "#111",
          font: { family: FONT, size: 17, weight: "bold" },
          padding: { top: 5, bottom: 5 },
        }),
        y: yAxis(-20, 60, transportTicks, transportTicks.map(String), 15, 75, { family: FONT, size: 17 }, false, {
          display: true,
          text: "VOLUME TRANSPORT (Sv)",
          color: "#333",
          font: { family: FONT, size: 18 },
          padding: { top: 9, bottom: 0 },
        }),
      },
    },
    plugins: [
      overlay({
        border: 1.6,
        marks: [
          { axis: "x", values: dMarks, color: "#f1f1f5", width: 1 },
          { axis: "x", values: dMarks, len: 5, width: 1.3 },
          { axis: "y", values: transportTicks.slice(1, -1), len: 5, width: 1.3, sides: ["left", "right"] },
        ],
      }),
    ],
  };
}

function ChartBox({ x, y, w, h, make }: { x: number; y: number; w: number; h: number; make: () => any }) {
  const ref = useRef<HTMLCanvasElement>(null);
  useEffect(() => {
    const c = new Chart(ref.current as HTMLCanvasElement, make());
    return () => c.destroy();
  }, []);
  return <canvas ref={ref} width={w} height={h} style={{ position: "absolute", left: x, top: y, width: w, height: h, filter: "blur(0.5px)" }} />;
}

const letters = [
  { t: "a", x: 67, y: 7 },
  { t: "b", x: 67, y: 340 },
  { t: "c", x: 12, y: 677 },
  { t: "d", x: 494, y: 677 },
];

export default function App() {
  return (
    <div style={{ position: "absolute", left: 0, top: 0, width: 906, height: 1089, overflow: "hidden", background: "#fff", fontFamily: FONT }}>
      {letters.map((l) => (
        <div key={l.t} style={{ position: "absolute", left: l.x, top: l.y, fontSize: 30, lineHeight: 1, color: "#111" }}>
          {l.t}
        </div>
      ))}
      <ChartBox x={0} y={35} w={866} h={241} make={makeA} />
      <ChartBox x={239} y={272} w={442} h={57} make={makeColorbarA} />
      <ChartBox x={0} y={376} w={866} h={234} make={makeB} />
      <ChartBox x={234} y={607} w={450} h={62} make={makeColorbarB} />
      <ChartBox x={0} y={702} w={505} h={345} make={makeC} />
      <ChartBox x={483} y={700} w={422} h={347} make={makeD} />
      <div style={{ position: "absolute", left: 567, top: 1050, width: 320, height: 60, border: "2px solid #222", boxSizing: "border-box" }} />
      {legendItems.map((l) => (
        <React.Fragment key={l.label}>
          <div style={{ position: "absolute", left: l.lineX, top: l.lineY - 1, width: 20, height: 2, background: l.color }} />
          <div style={{ position: "absolute", left: l.textX, top: l.textY - 8, fontSize: 15, lineHeight: "16px", color: "#333" }}>{l.label}</div>
        </React.Fragment>
      ))}
    </div>
  );
}
